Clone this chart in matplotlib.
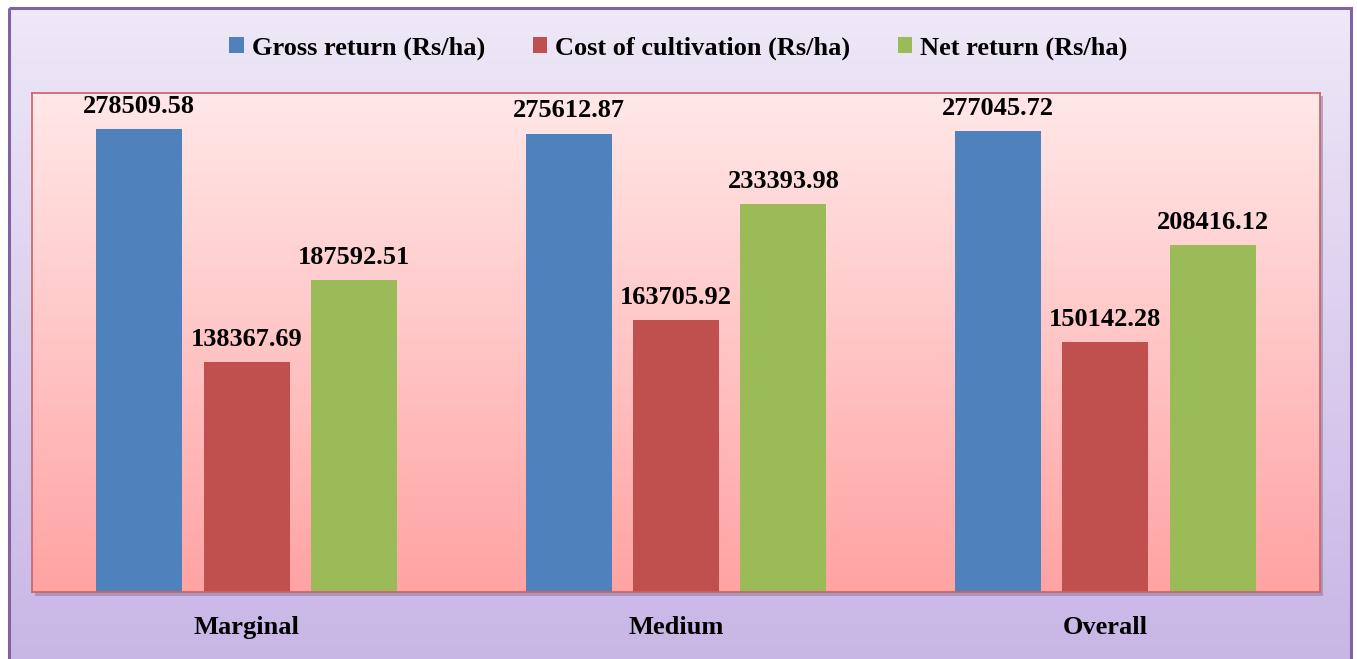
import matplotlib.pyplot as plt
import numpy as np
from matplotlib.patches import Rectangle, Patch
from matplotlib.colors import LinearSegmentedColormap

plt.rcParams['font.family'] = ['Liberation Serif', 'DejaVu Serif']
plt.rcParams['font.weight'] = 'bold'

categories = ["Marginal", "Medium", "Overall"]
series_names = ["Gross return (Rs/ha)", "Cost of cultivation (Rs/ha)", "Net return (Rs/ha)"]
gross_return = [278509.58, 275612.87, 277045.72]
cost_cultivation = [138367.69, 163705.92, 150142.28]
net_return = [187592.51, 233393.98, 208416.12]
colors = ["#4F81BD", "#C0504D", "#9BBB59"]

fig = plt.figure(figsize=(13.57, 6.59), dpi=100)
W, H = 1357, 659

# figure background: lavender gradient inside a purple frame
bg = fig.add_axes([0, 0, 1, 1], zorder=-10)
bg.set_xlim(0, W)
bg.set_ylim(H, 0)
bg.axis("off")
fig_cmap = LinearSegmentedColormap.from_list("fig", ["#EEE8F7", "#C8B6E6"])
bg.imshow(np.linspace(0, 1, 256).reshape(-1, 1), cmap=fig_cmap, aspect="auto",
          extent=(9, 1351, 662, 8), zorder=0)
bg.add_patch(Rectangle((9, 8), 1342, 656, fill=False, edgecolor="#8064A2", lw=2.2, zorder=2))
# shadow of plot area
bg.add_patch(Rectangle((35, 96), 1288, 500, facecolor="#8E7FA8", edgecolor="none", alpha=0.6, zorder=1))

# plot area
left, right, top, bottom = 32, 1320, 93, 592
ax = fig.add_axes([left / W, 1 - bottom / H, (right - left) / W, (bottom - top) / H])
ax.set_xlim(-0.5, 2.5)
ax.set_ylim(0, 300000)
plot_cmap = LinearSegmentedColormap.from_list("plot", ["#FFE8E8", "#FFA3A3"])
ax.imshow(np.linspace(0, 1, 256).reshape(-1, 1), cmap=plot_cmap, aspect="auto",
          extent=(-0.5, 2.5, 0, 300000), zorder=0)

x = np.arange(len(categories))
width = 0.2
offsets = [-0.25, 0, 0.25]
for vals, off, c, name in zip([gross_return, cost_cultivation, net_return], offsets, colors, series_names):
    bars = ax.bar(x + off, vals, width, color=c, label=name, zorder=2)
    for b, v in zip(bars, vals):
        ax.annotate(f"{v:.2f}", (b.get_x() + b.get_width() / 2, v), xytext=(0, 8),
                    textcoords="offset points", ha="center", va="bottom",
                    fontsize=19, fontweight="bold", zorder=3)

ax.set_xticks(x)
ax.set_xticklabels(categories, fontsize=19, fontweight="bold")
ax.tick_params(axis="x", length=0, pad=17)
ax.set_yticks([])
for s in ax.spines.values():
    s.set_color("#D06060")
    s.set_linewidth(1.2)

handles = [Patch(facecolor=c, edgecolor="none") for c in colors]
fig.legend(handles, series_names, loc="center", bbox_to_anchor=(0.5, 1 - 48 / H), ncol=3,
           frameon=False, handlelength=0.55, handleheight=0.55,
           handletextpad=0.3, columnspacing=1.8, prop={"weight": "bold", "size": 19})

fig.savefig("out.png", dpi=100)
